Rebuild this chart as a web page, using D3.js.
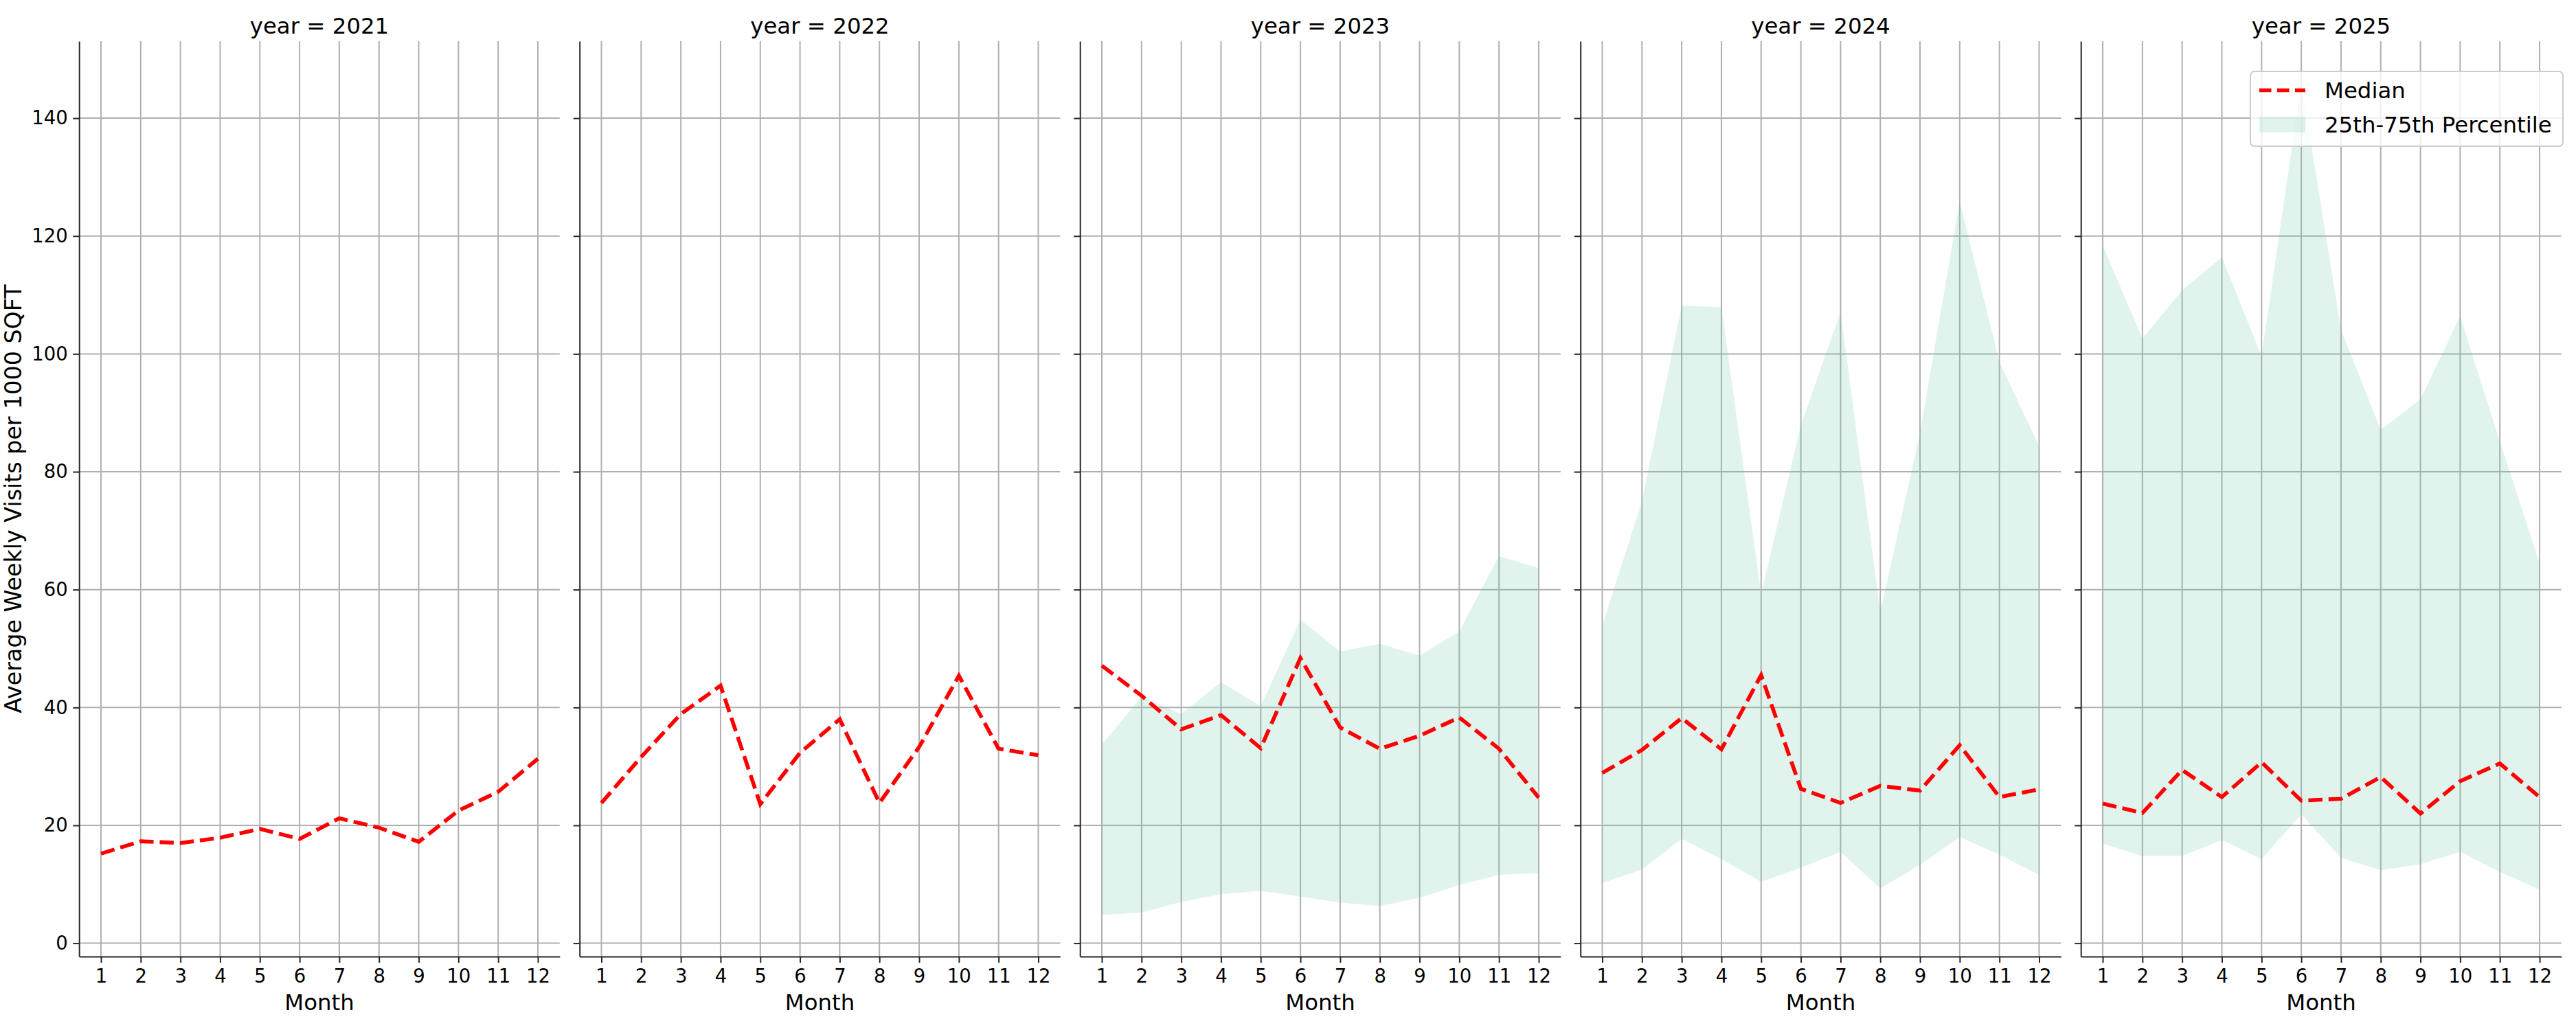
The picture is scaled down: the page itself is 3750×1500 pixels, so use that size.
<!DOCTYPE html>
<html>
<head>
<meta charset="utf-8">
<script src="https://cdn.jsdelivr.net/npm/d3@7"></script>
<style>
  body { margin: 0; background: #fff; }
  text { font-family: "DejaVu Sans", sans-serif; fill: #000; }
</style>
</head>
<body>
<script>
// ---- data ----
var years = [2021, 2022, 2023, 2024, 2025];
var months = [1, 2, 3, 4, 5, 6, 7, 8, 9, 10, 11, 12];
var yTicks = [0, 20, 40, 60, 80, 100, 120, 140];

var median2021 = [15.2, 17.3, 17.0, 17.9, 19.4, 17.7, 21.2, 19.6, 17.2, 22.5, 25.7, 31.3];
var median2022 = [23.8, 31.6, 38.9, 43.7, 23.6, 32.3, 38.0, 23.8, 33.3, 45.4, 33.0, 31.9];
var median2023 = [47.1, 42.0, 36.3, 38.7, 33.1, 48.4, 36.6, 33.0, 35.2, 38.3, 33.0, 24.7];
var median2024 = [28.9, 32.8, 38.2, 32.9, 45.5, 26.2, 23.8, 26.7, 25.9, 33.6, 24.8, 26.1];
var median2025 = [23.7, 22.1, 29.4, 24.8, 30.7, 24.2, 24.5, 28.2, 22.0, 27.5, 30.5, 24.8];

// 25th / 75th percentiles (none drawn for 2021 and 2022)
var p25_2023 = [4.8, 5.2, 7.0, 8.3, 8.9, 7.9, 6.9, 6.3, 7.7, 9.9, 11.6, 11.9];
var p75_2023 = [33.7, 41.8, 38.9, 44.3, 40.2, 54.9, 49.5, 50.8, 48.8, 52.9, 65.7, 63.6];
var p25_2024 = [10.2, 12.5, 17.7, 14.3, 10.4, 12.8, 15.5, 9.3, 13.3, 18.0, 15.0, 11.6];
var p75_2024 = [53.9, 75.0, 108.2, 107.9, 59.2, 87.9, 107.1, 56.2, 86.6, 125.9, 98.6, 84.3];
var p25_2025 = [16.9, 14.8, 14.8, 17.5, 14.3, 21.9, 14.5, 12.4, 13.4, 15.5, 12.1, 9.1];
var p75_2025 = [118.4, 102.6, 110.8, 116.4, 99.6, 146.0, 104.1, 87.1, 92.3, 106.4, 85.1, 64.5];

var medians = [median2021, median2022, median2023, median2024, median2025];
var lows = [[], [], p25_2023, p25_2024, p25_2025];
var highs = [[], [], p75_2023, p75_2024, p75_2025];

// ---- layout ----
var W = 3750, H = 1500;
var panelLeft = 115.2, panelStep = 728.5, panelW = 699.6;
var plotTop = 60, plotBottom = 1393;
var fillColor = "#66c2a5";

var svg = d3.select("body").append("svg")
    .attr("width", W)
    .attr("height", H);
svg.append("rect").attr("width", W).attr("height", H).attr("fill", "#fff");

/* shared y scale, padded 5% like matplotlib */
var all = d3.merge(medians.concat(lows, highs));
var lo = d3.min(all), hi = d3.max(all), pad = (hi - lo) * 0.05;
var y = d3.scaleLinear().domain([lo - pad, hi + pad]).range([plotBottom, plotTop]);
var x = d3.scaleLinear().domain([1 - 11 * 0.05, 12 + 11 * 0.05]).range([0, panelW]);

var line = d3.line()
    .x(function(d) { return x(d.m); })
    .y(function(d) { return y(d.med); });
var area = d3.area()
    .x(function(d) { return x(d.m); })
    .y0(function(d) { return y(d.lo); })
    .y1(function(d) { return y(d.hi); });

function styleAxis(ax) {
    ax.attr("color", "#262626")
      .attr("font-family", "DejaVu Sans, sans-serif")
      .attr("font-size", 27.5);
    ax.select(".domain").attr("stroke-width", 2);
    ax.selectAll(".tick line").attr("stroke-width", 2);
    ax.selectAll(".tick text").attr("fill", "#000");
}

years.forEach(function(year, i) {
    var rows = months.map(function(m, j) {
        return { m: m, med: medians[i][j], lo: lows[i][j], hi: highs[i][j] };
    });

    var g = svg.append("g")
        .attr("transform", "translate(" + (panelLeft + i * panelStep) + ",0)");

    /* grid first, under everything */
    g.append("g").selectAll("line")
        .data(months)
        .enter().append("line")
        .attr("x1", function(d) { return x(d); })
        .attr("x2", function(d) { return x(d); })
        .attr("y1", plotTop).attr("y2", plotBottom)
        .attr("stroke", "#b0b0b0").attr("stroke-width", 2);
    g.append("g").selectAll("line")
        .data(yTicks)
        .enter().append("line")
        .attr("x1", 0).attr("x2", panelW)
        .attr("y1", function(d) { return y(d); })
        .attr("y2", function(d) { return y(d); })
        .attr("stroke", "#b0b0b0").attr("stroke-width", 2);

    /* percentile band */
    if (lows[i].length) {
        g.append("path")
            .datum(rows)
            .attr("d", area)
            .attr("fill", fillColor)
            .attr("fill-opacity", 0.2);
    }

    /* median */
    g.append("path")
        .datum(rows)
        .attr("d", line)
        .attr("fill", "none")
        .attr("stroke", "#ff0000")
        .attr("stroke-width", 5.6)
        .attr("stroke-dasharray", "20.5,8.9");

    /* axes */
    var xa = g.append("g")
        .attr("transform", "translate(0," + plotBottom + ")")
        .call(d3.axisBottom(x).tickValues(months).tickSize(9).tickPadding(9).tickSizeOuter(0));
    styleAxis(xa);

    var ya = g.append("g")
        .call(d3.axisLeft(y).tickValues(yTicks).tickSize(9).tickPadding(7.5).tickSizeOuter(0)
            .tickFormat(i === 0 ? d3.format("d") : function() { return ""; }));
    styleAxis(ya);

    /* titles */
    g.append("text")
        .attr("x", panelW / 2).attr("y", 48.5)
        .attr("text-anchor", "middle")
        .attr("font-size", 32.4)
        .text("year = " + year);
    g.append("text")
        .attr("x", panelW / 2).attr("y", 1471)
        .attr("text-anchor", "middle")
        .attr("font-size", 32.4)
        .text("Month");
});

/* y label */
svg.append("text")
    .attr("transform", "translate(31," + ((plotTop + plotBottom) / 2) + ") rotate(-90)")
    .attr("text-anchor", "middle")
    .attr("font-size", 33.3)
    .text("Average Weekly Visits per 1000 SQFT");

/* legend on the last panel */
var lg = svg.append("g");
lg.append("rect")
    .attr("x", 3276).attr("y", 104)
    .attr("width", 455).attr("height", 109)
    .attr("rx", 6)
    .attr("fill", "#fff").attr("fill-opacity", 0.8)
    .attr("stroke", "#cccccc").attr("stroke-width", 2);
lg.append("line")
    .attr("x1", 3289).attr("x2", 3356)
    .attr("y1", 131.5).attr("y2", 131.5)
    .attr("stroke", "#ff0000").attr("stroke-width", 5.6)
    .attr("stroke-dasharray", "17.5,8.5");
lg.append("text")
    .attr("x", 3384).attr("y", 142.5)
    .attr("font-size", 32.4)
    .text("Median");
lg.append("rect")
    .attr("x", 3289).attr("y", 170)
    .attr("width", 67).attr("height", 22.5)
    .attr("fill", fillColor).attr("fill-opacity", 0.2);
lg.append("text")
    .attr("x", 3384).attr("y", 192.5)
    .attr("font-size", 32.4)
    .text("25th-75th Percentile");
</script>
</body>
</html>
